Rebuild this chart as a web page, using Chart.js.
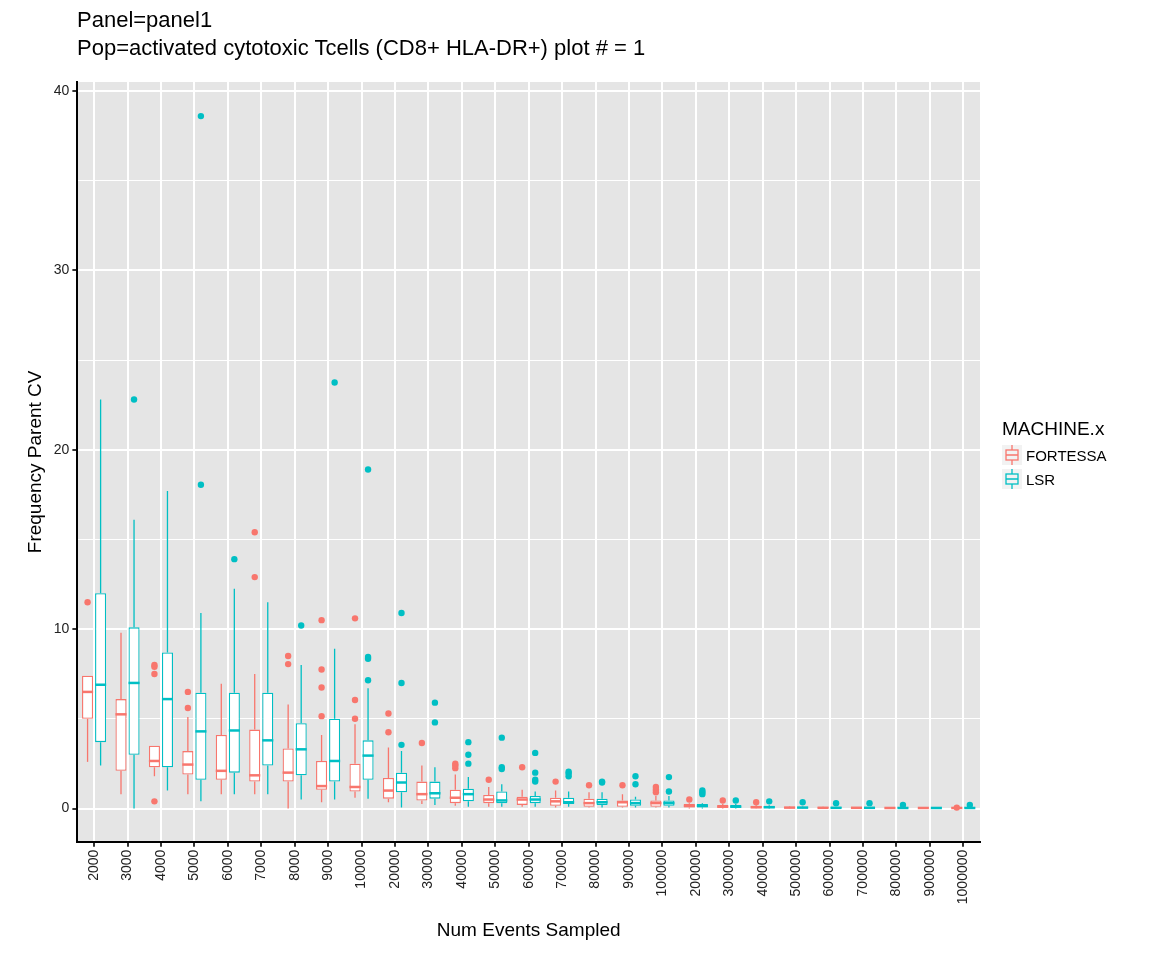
<!DOCTYPE html>
<html>
<head>
<meta charset="utf-8">
<script src="https://cdn.jsdelivr.net/npm/chart.js@4"></script>
<style>
  body { margin: 0; background: #fff; font-family: "Liberation Sans", Arial, sans-serif; }
  #wrap { position: relative; width: 1152px; height: 960px; }
  #title { position: absolute; left: 77px; top: 6px; font-size: 22px; line-height: 28px; color: #000; }
  #legend { position: absolute; left: 1002px; top: 418px; font-size: 15px; color: #000; }
  #legend .t { font-size: 19px; margin-bottom: 3px; }
  #legend .row { display: flex; align-items: center; height: 24px; }
  #legend canvas { margin-right: 4px; }
</style>
</head>
<body>
<div id="wrap">
  <canvas id="chart" width="1152" height="960"></canvas>
  <div id="title">Panel=panel1<br>Pop=activated cytotoxic Tcells (CD8+ HLA-DR+) plot # = 1</div>
  <div id="legend">
    <div class="t">MACHINE.x</div>
    <div class="row"><canvas id="lg0" width="20" height="20"></canvas>FORTESSA</div>
    <div class="row"><canvas id="lg1" width="20" height="20"></canvas>LSR</div>
  </div>
</div>
<script>
// カテゴリ(サンプリングしたイベント数)
const categories = ['2000','3000','4000','5000','6000','7000','8000','9000','10000','20000','30000','40000','50000','60000','70000','80000','90000','100000','200000','300000','400000','500000','600000','700000','800000','900000','1000000'];

// FORTESSA: 下ひげ, Q1, 中央値, Q3, 上ひげ
const fLow  = [2.6,0.8,1.8,0.8,0.8,0.8,0.0,0.35,0.6,0.35,0.25,0.15,0.1,0.1,0.05,0.05,0.05,0.05,0.0,0.0,0.0,0.0,0.0,0.0,0.0,0.0,0.0];
const fQ1   = [5.0,2.1,2.3,1.9,1.6,1.5,1.5,1.05,0.95,0.55,0.45,0.3,0.3,0.2,0.15,0.1,0.1,0.1,0.05,0.05,0.02,0.02,0.02,0.02,0.02,0.01,0.01];
const fMed  = [6.5,5.25,2.65,2.45,2.1,1.85,2.0,1.25,1.2,1.0,0.8,0.6,0.5,0.5,0.4,0.3,0.35,0.3,0.15,0.1,0.07,0.05,0.04,0.04,0.03,0.03,0.03];
const fQ3   = [7.4,6.1,3.5,3.2,4.1,4.4,3.35,2.65,2.5,1.7,1.5,1.05,0.75,0.65,0.6,0.55,0.45,0.45,0.25,0.2,0.15,0.1,0.08,0.07,0.06,0.05,0.05];
const fHigh = [7.4,9.8,3.5,5.1,6.95,7.5,5.8,4.1,4.7,3.4,2.4,1.9,1.2,1.05,1.0,0.9,0.8,0.7,0.3,0.25,0.2,0.12,0.1,0.09,0.08,0.07,0.07];
const fOut  = [[11.5],[],[8.0,7.9,7.5,0.4],[6.5,5.6],[],[12.9,15.4],[8.5,8.05],[5.15,6.75,7.75,10.5],[5.0,6.05,10.6],[4.25,5.3],[3.65],[2.25,2.4,2.5],[1.6],[2.3],[1.5],[1.3],[1.3],[0.9,1.05,1.2],[0.5],[0.45],[0.35],[],[],[],[],[],[0.05]];

// LSR
const lLow  = [2.4,0.0,1.0,0.4,0.8,0.8,0.5,0.5,0.55,0.05,0.2,0.1,0.1,0.1,0.1,0.05,0.05,0.05,0.0,0.0,0.0,0.0,0.0,0.0,0.0,0.0,0.0];
const lQ1   = [3.7,3.0,2.3,1.6,2.0,2.4,1.85,1.5,1.6,0.9,0.55,0.4,0.3,0.3,0.25,0.2,0.15,0.15,0.05,0.05,0.03,0.02,0.02,0.02,0.02,0.01,0.01];
const lMed  = [6.9,7.0,6.1,4.3,4.35,3.8,3.3,2.65,2.95,1.45,0.85,0.8,0.45,0.5,0.35,0.35,0.3,0.3,0.15,0.1,0.07,0.05,0.04,0.04,0.03,0.03,0.03];
const lQ3   = [12.0,10.1,8.7,6.45,6.45,6.45,4.75,5.0,3.8,2.0,1.5,1.1,0.95,0.7,0.6,0.55,0.5,0.45,0.25,0.2,0.15,0.1,0.08,0.07,0.06,0.05,0.05];
const lHigh = [22.8,16.1,17.7,10.9,12.25,11.5,8.0,8.9,6.7,3.2,2.3,1.75,1.35,0.95,0.95,0.9,0.65,0.7,0.3,0.25,0.2,0.12,0.1,0.09,0.08,0.07,0.07];
const lOut  = [[],[22.8],[],[18.05,38.6],[13.9],[],[10.2],[23.75],[7.15,8.35,8.45,18.9],[3.55,7.0,10.9],[4.8,5.9],[2.5,3.0,3.7],[2.2,2.3,3.95],[1.5,1.6,2.0,3.1],[1.8,1.95,2.05],[1.45,1.5],[1.35,1.8],[0.95,1.75],[0.8,0.9,1.0],[0.45],[0.4],[0.35],[0.3],[0.3],[0.2],[],[0.2]];

const RED = '#F8766D';
const TEAL = '#00BFC4';

const boxes = [
  { label: 'FORTESSA', color: RED, low: fLow, q1: fQ1, med: fMed, q3: fQ3, high: fHigh, out: fOut },
  { label: 'LSR', color: TEAL, low: lLow, q1: lQ1, med: lMed, q3: lQ3, high: lHigh, out: lOut },
];

// パネル背景
const panelBg = {
  id: 'panelBg',
  beforeDraw(chart) {
    const { ctx, chartArea: a } = chart;
    ctx.save();
    ctx.fillStyle = '#E5E5E5';
    ctx.fillRect(a.left, a.top, a.right - a.left, a.bottom - a.top);
    ctx.restore();
  }
};

// ひげ・中央値・外れ値を描く
const boxPlot = {
  id: 'boxPlot',
  afterDatasetsDraw(chart) {
    const { ctx } = chart;
    const y = chart.scales.y;
    ctx.save();
    boxes.forEach((b, i) => {
      const meta = chart.getDatasetMeta(i);
      meta.data.forEach((bar, j) => {
        const x = bar.x, w = bar.width;
        ctx.strokeStyle = b.color;
        ctx.lineWidth = 1.3;
        ctx.beginPath();
        ctx.moveTo(x, y.getPixelForValue(b.q3[j]));
        ctx.lineTo(x, y.getPixelForValue(b.high[j]));
        ctx.moveTo(x, y.getPixelForValue(b.q1[j]));
        ctx.lineTo(x, y.getPixelForValue(b.low[j]));
        ctx.stroke();
        ctx.lineWidth = 2.5;
        ctx.beginPath();
        ctx.moveTo(x - w / 2, y.getPixelForValue(b.med[j]));
        ctx.lineTo(x + w / 2, y.getPixelForValue(b.med[j]));
        ctx.stroke();
        ctx.fillStyle = b.color;
        b.out[j].forEach(v => {
          ctx.beginPath();
          ctx.arc(x, y.getPixelForValue(v), 3.2, 0, Math.PI * 2);
          ctx.fill();
        });
      });
    });
    ctx.restore();
  }
};

new Chart(document.getElementById('chart'), {
  type: 'bar',
  data: {
    labels: categories,
    datasets: boxes.map(b => ({
      label: b.label,
      data: b.q1.map((v, j) => [v, b.q3[j]]),
      backgroundColor: '#ffffff',
      borderColor: b.color,
      borderWidth: 1.3,
      borderSkipped: false,
      categoryPercentage: 0.78,
      barPercentage: 0.85,
    })),
  },
  plugins: [panelBg, boxPlot],
  options: {
    responsive: false,
    animation: false,
    layout: { padding: { top: 82, right: 172, left: 20, bottom: 14 } },
    plugins: { legend: { display: false }, tooltip: { enabled: false } },
    scales: {
      x: {
        grid: { color: '#ffffff', lineWidth: 2, offset: false, drawTicks: true, tickColor: '#333', tickLength: 5 },
        border: { display: true, color: '#000', width: 2 },
        ticks: { color: '#222', font: { size: 14, family: 'Liberation Sans' }, minRotation: 90, maxRotation: 90, autoSkip: false },
        title: { display: true, text: 'Num Events Sampled', color: '#000', font: { size: 19, family: 'Liberation Sans' }, padding: { top: 12 } },
      },
      y: {
        min: -1.85,
        max: 40.5,
        afterBuildTicks: axis => {
          axis.ticks = [0, 5, 10, 15, 20, 25, 30, 35, 40].map(v => ({ value: v }));
        },
        grid: {
          color: '#ffffff',
          lineWidth: c => (c.tick && c.tick.value % 10 === 0 ? 2 : 1),
          tickColor: c => (c.tick && c.tick.value % 10 === 0 ? '#333' : 'rgba(0,0,0,0)'),
          tickLength: 5,
        },
        border: { display: true, color: '#000', width: 2 },
        ticks: {
          color: '#222',
          font: { size: 14, family: 'Liberation Sans' },
          callback: v => (v % 10 === 0 ? v : ''),
        },
        title: { display: true, text: 'Frequency Parent CV', color: '#000', font: { size: 19, family: 'Liberation Sans' } },
      },
    },
  },
});

// 凡例アイコン
boxes.forEach((b, i) => {
  const c = document.getElementById('lg' + i).getContext('2d');
  c.fillStyle = '#f2f2f2';
  c.fillRect(0, 0, 20, 20);
  c.strokeStyle = b.color;
  c.lineWidth = 1.3;
  c.strokeRect(4, 5, 12, 10);
  c.beginPath();
  c.moveTo(10, 0); c.lineTo(10, 5);
  c.moveTo(10, 15); c.lineTo(10, 20);
  c.moveTo(4, 10); c.lineTo(16, 10);
  c.stroke();
});
</script>
</body>
</html>
